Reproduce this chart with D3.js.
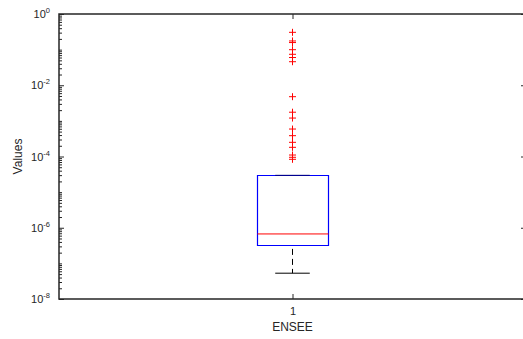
<!DOCTYPE html>
<html>
<head>
<meta charset="utf-8">
<script src="https://cdn.jsdelivr.net/npm/d3@7"></script>
<style>
  body { margin: 0; background: #fff; }
  text { font-family: "Liberation Sans", Arial, sans-serif; fill: #262626; }
</style>
</head>
<body>
<div id="chart"></div>
<script>
// data
var categories = ["1"];
var groupName = "ENSEE";
var quartiles = [3.3e-7, 6.7e-7, 2.96e-5];   // q1, median, q3
var whiskers = [5.3e-8, 2.96e-5];             // low, high
var outliers = [0.306, 0.175, 0.158, 0.0995, 0.074, 0.06, 0.0458,
                0.00477, 0.00175, 0.0012,
                5.9e-4, 3.84e-4, 2.5e-4, 1.81e-4, 1.1e-4, 9.5e-5, 8.34e-5];
var majorExponents = [0, -2, -4, -6, -8];

//set dimensions and margins of graph
var margin = {top: 14, right: -3, bottom: 40, left: 59},
    width = 523 - margin.left - margin.right,
    height = 339 - margin.top - margin.bottom;

var svg = d3.select("#chart").append("svg")
    .attr("width", 523)
    .attr("height", 339)
    .append("g")
    .attr("transform", "translate(" + margin.left + "," + margin.top + ")");

var y = d3.scaleLog().domain([1e-8, 1]).range([height, 0]);
var x = d3.scaleLinear().domain([0.5, 1.5]).range([0, width]);

// minor ticks (every decade 1..9)
var minor = [];
for (var e = -8; e < 0; e++) {
  for (var m = 1; m < 10; m++) {
    var v = m * Math.pow(10, e);
    if (m === 1 && e % 2 === 0) continue;
    minor.push(v);
  }
}
var major = majorExponents.map(function(e){ return Math.pow(10, e); });

function styleAxis(g) {
  g.select(".domain").remove();
  g.selectAll("line").attr("stroke", "#262626").attr("stroke-width", 1);
}

svg.append("g").call(d3.axisLeft(y).tickValues(minor).tickSize(-3).tickFormat("")).call(styleAxis);
svg.append("g").attr("transform", "translate(" + width + ",0)")
   .call(d3.axisRight(y).tickValues(minor).tickSize(-3).tickFormat("")).call(styleAxis);
svg.append("g").attr("transform", "translate(" + width + ",0)")
   .call(d3.axisRight(y).tickValues(major).tickSize(-5).tickFormat("")).call(styleAxis);

var yAxis = svg.append("g")
   .call(d3.axisLeft(y).tickValues(major).tickSize(-5).tickPadding(9).tickFormat(""))
   .call(styleAxis);
yAxis.selectAll(".tick text")
   .attr("font-size", 11)
   .attr("fill", "#262626")
   .each(function(d) {
     var t = d3.select(this);
     t.text("10");
     t.append("tspan").attr("dy", -5).attr("font-size", 7.5).text(Math.round(Math.log10(d)));
   });

// x axis
var xAxis = svg.append("g").attr("transform", "translate(0," + height + ")")
   .call(d3.axisBottom(x).tickValues([1]).tickSize(-5).tickPadding(8)
     .tickFormat(function(d){ return categories[d - 1]; }))
   .call(styleAxis);
xAxis.selectAll("text").attr("font-size", 11).attr("fill", "#262626");
svg.append("g").attr("transform", "translate(0,0)")
   .call(d3.axisTop(x).tickValues([1]).tickSize(-5).tickFormat("")).call(styleAxis);

// box frame
svg.append("path")
   .attr("d", "M" + width + ",0H0V" + height + "H" + width + "V0")
   .attr("fill", "none").attr("stroke", "#262626").attr("stroke-width", 1.5);

// boxplot
var cx = x(1), boxHalf = 0.075, capHalf = 0.037;
var bx0 = Math.round(x(1 - boxHalf)) + 0.5, bx1 = Math.round(x(1 + boxHalf)) + 0.5;
var by0 = Math.round(y(quartiles[2])) + 0.5, by1 = Math.round(y(quartiles[0])) + 0.5;
svg.append("line")
   .attr("x1", cx).attr("x2", cx)
   .attr("y1", y(quartiles[0])).attr("y2", y(whiskers[0]))
   .attr("stroke", "#000").attr("stroke-dasharray", "6,4").attr("stroke-dashoffset", -4);
svg.append("line")
   .attr("x1", cx).attr("x2", cx)
   .attr("y1", y(quartiles[2])).attr("y2", y(whiskers[1]))
   .attr("stroke", "#000").attr("stroke-dasharray", "6,4");
svg.append("path")
   .attr("d", "M" + bx0 + "," + by0 + "H" + bx1 + "V" + by1 + "H" + bx0 + "Z")
   .attr("fill", "none").attr("stroke", "#0000ff").attr("stroke-width", 1.2);
svg.selectAll(".cap").data(whiskers).enter().append("line")
   .attr("x1", x(1 - capHalf)).attr("x2", x(1 + capHalf))
   .attr("y1", function(d){ return y(d); }).attr("y2", function(d){ return y(d); })
   .attr("stroke", function(d, i){ return i === 1 ? "#00007a" : "#000"; });
svg.append("line")
   .attr("x1", bx0).attr("x2", bx1)
   .attr("y1", y(quartiles[1])).attr("y2", y(quartiles[1]))
   .attr("stroke", "#ff0000");

// outliers
svg.selectAll(".out").data(outliers).enter().append("path")
   .attr("d", function(d){ var py = y(d); return "M" + (cx - 3.5) + "," + py + "H" + (cx + 3.5) + "M" + cx + "," + (py - 3.5) + "V" + (py + 3.5); })
   .attr("stroke", "#ff0000").attr("stroke-width", 1).attr("fill", "none");

// labels
svg.append("text")
   .attr("transform", "translate(" + (width / 2) + "," + (height + 32) + ")")
   .style("text-anchor", "middle").attr("font-size", 12)
   .text(groupName);
svg.append("text")
   .attr("transform", "rotate(-90)")
   .attr("y", -37)
   .attr("x", -height / 2)
   .style("text-anchor", "middle").attr("font-size", 12)
   .text("Values");
</script>
</body>
</html>
